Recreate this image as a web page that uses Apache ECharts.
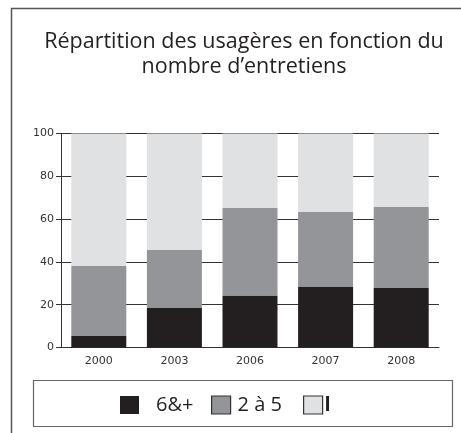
<!DOCTYPE html>
<html>
<head>
<meta charset="utf-8">
<script src="https://cdn.jsdelivr.net/npm/echarts@6/dist/echarts.min.js"></script>
<style>html,body{margin:0;padding:0;background:#fff}#c{width:461px;height:433px}</style>
</head>
<body>
<div id="c"></div>
<script>
const categories = ['2000', '2003', '2006', '2007', '2008'];
const seriesNames = ['6&+', '2 à 5', 'l'];
const s6plus = [5.4, 18.5, 24.3, 28.5, 27.8];
const s2a5 = [32.7, 27.1, 40.9, 34.8, 37.8];
const s1 = [61.9, 54.4, 34.8, 36.7, 34.4];
const yTicks = [0, 20, 40, 60, 80, 100];
const colors = ['#231f20', '#939598', '#e0e1e3'];

const chart = echarts.init(document.getElementById('c'), null, {renderer: 'canvas'});
const values = [s6plus, s2a5, s1];
const legendLefts = [120, 211, 303];
const legendPad = [[0, 0, 0, 12], [0, 0, 0, 2], [0, 0, 0, -3]];
const legendBorder = [0, 1.2, 1.2];

chart.setOption({
  animation: false,
  backgroundColor: '#fff',
  title: {
    text: 'Répartition des usagères en fonction du\nnombre d\u2019entretiens',
    left: 239, top: 24, textAlign: 'center',
    textStyle: {fontFamily: 'Open Sans', fontSize: 21.5, fontWeight: 'normal', color: '#231f20', lineHeight: 25}
  },
  legend: seriesNames.map((n, i) => ({
    data: [{name: n, textStyle: {padding: legendPad[i], fontWeight: i === 2 ? 'bold' : 'normal'},
            itemStyle: {borderColor: '#333', borderWidth: legendBorder[i]}}],
    left: legendLefts[i], top: 395, padding: 0,
    itemWidth: 19, itemHeight: 18,
    icon: 'rect',
    selectedMode: false,
    textStyle: {fontFamily: 'Open Sans', fontSize: 20, color: '#231f20'}
  })),
  graphic: [
    {type: 'polyline', shape: {points: [[11.5, 433], [11.5, 8.5], [461, 8.5]]}, style: {stroke: '#555', lineWidth: 1.5, fill: null}},
    {type: 'rect', shape: {x: 33.5, y: 380.5, width: 419, height: 46}, style: {stroke: '#666', lineWidth: 1.2, fill: null}}
  ],
  grid: {left: 61, right: 22, top: 133.5, bottom: 85.5},
  xAxis: {
    type: 'category', data: categories,
    axisLine: {lineStyle: {color: '#333', width: 1}},
    axisTick: {show: false},
    axisLabel: {margin: 8, fontFamily: 'DejaVu Sans', fontSize: 11, color: '#333'}
  },
  yAxis: {
    type: 'value', min: yTicks[0], max: yTicks[yTicks.length - 1], interval: 20,
    axisLine: {show: true, lineStyle: {color: '#333', width: 1}},
    axisTick: {show: true, length: 5, lineStyle: {color: '#333'}},
    splitLine: {show: true, lineStyle: {color: '#333', width: 1}},
    axisLabel: {margin: 7, fontFamily: 'DejaVu Sans', fontSize: 11, color: '#333'}
  },
  series: seriesNames.map((n, i) => ({
    name: n, type: 'bar', stack: 'total', data: values[i], barWidth: 55,
    itemStyle: {color: colors[i], borderWidth: 0},
    emphasis: {disabled: true}
  }))
});
</script>
</body>
</html>
